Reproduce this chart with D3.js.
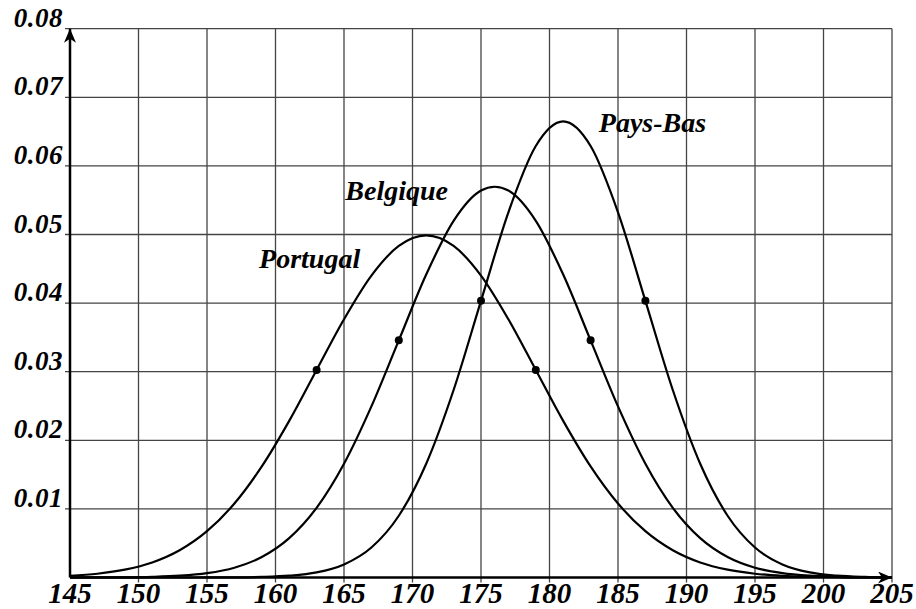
<!DOCTYPE html>
<html>
<head>
<meta charset="utf-8">
<script src="https://cdn.jsdelivr.net/npm/d3@7"></script>
<style>
  body { margin: 0; background: #fff; }
  text { font-family: "Liberation Serif", "DejaVu Serif", serif; font-weight: bold; font-style: italic; }
</style>
</head>
<body>
<div id="wrapper"></div>
<script>
// DATA
const heights = [145, 147, 149, 151, 153, 155, 157, 159, 161, 163, 165, 167, 169, 171, 173, 175,
  177, 179, 181, 183, 185, 187, 189, 191, 193, 195, 197, 199, 201, 203, 205]

const portugal = [0.00025, 0.00055, 0.00114, 0.00219, 0.00397, 0.00675, 0.01078, 0.01619, 0.02283,
  0.03025, 0.03764, 0.04401, 0.04833, 0.04987, 0.04833, 0.04401, 0.03764, 0.03025, 0.02283, 0.01619,
  0.01078, 0.00675, 0.00397, 0.00219, 0.00114, 0.00055, 0.00025, 0.00011, 0.00004, 0.00002, 0.00001]

const belgique = [0.000003, 0.00001, 0.00003, 0.00010, 0.00026, 0.00063, 0.00143, 0.00299, 0.00574,
  0.01016, 0.01658, 0.02494, 0.03457, 0.04416, 0.05199, 0.05641, 0.05641, 0.05199, 0.04416, 0.03457,
  0.02494, 0.01658, 0.01016, 0.00574, 0.00299, 0.00143, 0.00063, 0.00026, 0.00010, 0.00003, 0.00001]

const paysBas = [0, 0, 0, 0, 0.000001, 0.000006, 0.00002, 0.00008, 0.00026, 0.00074, 0.00190, 0.00437,
  0.00900, 0.01658, 0.02733, 0.04033, 0.05324, 0.06290, 0.06649, 0.06290, 0.05324, 0.04033, 0.02733,
  0.01658, 0.00900, 0.00437, 0.00190, 0.00074, 0.00026, 0.00008, 0.00002]

// marked points on each curve
const dotX = [163, 179, 169, 183, 175, 187]
const dotY = [0.03025, 0.03025, 0.03457, 0.03457, 0.04033, 0.04033]

const seriesNames = ["Portugal", "Belgique", "Pays-Bas"]

const xTicks = [145, 150, 155, 160, 165, 170, 175, 180, 185, 190, 195, 200, 205]
const yTicks = [0.01, 0.02, 0.03, 0.04, 0.05, 0.06, 0.07, 0.08]

// DIMENSIONS
const width = 916
const height = 609

const svg = d3.select("#wrapper").append("svg")
  .attr("width", width)
  .attr("height", height)

// SCALES
const xScale = d3.scaleLinear().domain([145, 205]).range([70, 892])
const yScale = d3.scaleLinear().domain([0, 0.08]).range([577.5, 28.7])

// GRID
const grid = svg.append("g")
  .attr("stroke", "#444")
  .attr("stroke-width", 1.3)

grid.selectAll(".vline").data(xTicks.slice(1))
  .enter().append("line")
  .attr("x1", d => xScale(d)).attr("x2", d => xScale(d))
  .attr("y1", yScale(0.08)).attr("y2", yScale(0) + 5)

grid.selectAll(".hline").data(yTicks)
  .enter().append("line")
  .attr("y1", d => yScale(d)).attr("y2", d => yScale(d))
  .attr("x1", xScale(145) - 5).attr("x2", xScale(205))

// TICK LABELS
svg.selectAll(".ylab").data(yTicks)
  .enter().append("text")
  .attr("x", xScale(145) - 7)
  .attr("y", d => yScale(d) - 2)
  .attr("text-anchor", "end")
  .style("font-size", "27px")
  .style("letter-spacing", "0.5px")
  .text(d => d.toFixed(2))

svg.selectAll(".xlab").data(xTicks)
  .enter().append("text")
  .attr("x", d => xScale(d))
  .attr("y", yScale(0) + 25)
  .attr("text-anchor", "middle")
  .style("font-size", "29px")
  .text(d => d)

// AXES with arrows
svg.append("defs").append("marker")
  .attr("id", "arrow")
  .attr("viewBox", "0 0 14 12")
  .attr("refX", 14).attr("refY", 6)
  .attr("markerWidth", 14).attr("markerHeight", 12)
  .attr("markerUnits", "userSpaceOnUse")
  .attr("orient", "auto")
  .append("path")
  .attr("d", "M0,0 L14,6 L0,12 L4,6 Z")
  .attr("fill", "#000")

svg.append("line")
  .attr("x1", xScale(145)).attr("x2", xScale(205))
  .attr("y1", yScale(0)).attr("y2", yScale(0))
  .attr("stroke", "#000").attr("stroke-width", 2.5)
  .attr("marker-end", "url(#arrow)")

svg.append("line")
  .attr("x1", xScale(145)).attr("x2", xScale(145))
  .attr("y1", yScale(0)).attr("y2", yScale(0.08))
  .attr("stroke", "#000").attr("stroke-width", 2.5)
  .attr("marker-end", "url(#arrow)")

// CURVES
const line = d3.line()
  .x((d, i) => xScale(heights[i]))
  .y(d => yScale(d))
  .curve(d3.curveCatmullRom.alpha(0))

svg.selectAll(".curve").data([portugal, belgique, paysBas])
  .enter().append("path")
  .attr("d", line)
  .attr("fill", "none")
  .attr("stroke", "#000")
  .attr("stroke-width", 2.2)

// DOTS
svg.selectAll(".dot").data(dotX)
  .enter().append("circle")
  .attr("cx", d => xScale(d))
  .attr("cy", (d, i) => yScale(dotY[i]))
  .attr("r", 4)
  .attr("fill", "#000")

// CURVE NAMES
const labelPos = [[158.8, 0.0451], [165.1, 0.0550], [183.6, 0.0649]]
svg.selectAll(".name").data(seriesNames)
  .enter().append("text")
  .attr("x", (d, i) => xScale(labelPos[i][0]))
  .attr("y", (d, i) => yScale(labelPos[i][1]))
  .style("font-size", "28px")
  .text(d => d)
</script>
</body>
</html>
